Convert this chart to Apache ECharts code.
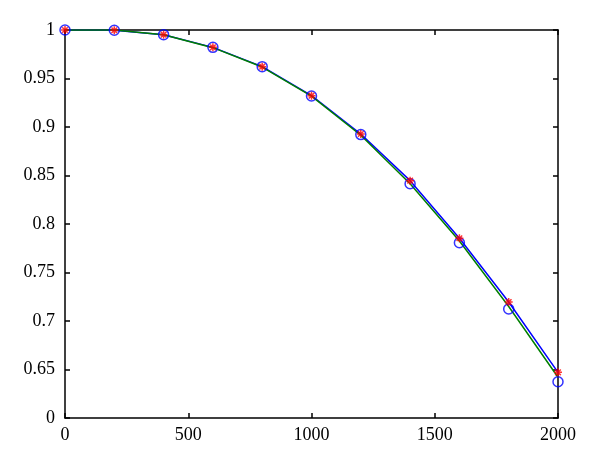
<!DOCTYPE html>
<html>
<head>
<meta charset="utf-8">
<script src="https://cdn.jsdelivr.net/npm/echarts@6/dist/echarts.min.js"></script>
<style>html,body{margin:0;padding:0;background:#fff;}#c{width:600px;height:463px;}</style>
</head>
<body>
<div id="c"></div>
<script>
var xValues = [0, 200, 400, 600, 800, 1000, 1200, 1400, 1600, 1800, 2000];
var circleValues = [1, 0.9997, 0.9952, 0.9821, 0.9622, 0.9320, 0.8922, 0.8415, 0.7807, 0.7124, 0.6374];
var starValues = [1, 0.9997, 0.9952, 0.9821, 0.9622, 0.9323, 0.8928, 0.8447, 0.7853, 0.7196, 0.6471];
var greenValues = [1, 1, 0.9950, 0.9818, 0.9618, 0.9318, 0.8915, 0.8415, 0.7825, 0.7150, 0.6420];
var yTicks = [0.6, 0.65, 0.7, 0.75, 0.8, 0.85, 0.9, 0.95, 1];

function pairs(ys) { return xValues.map(function (x, i) { return [x, ys[i]]; }); }

var FONT = 'Liberation Serif';
var starPath = 'path://M0,-5L0,5M-5,0L5,0M-3.5,-3.5L3.5,3.5M-3.5,3.5L3.5,-3.5';
var axisLine = { show: true, onZero: false, lineStyle: { color: '#000', width: 1.5 } };
var tick = { show: true, inside: true, length: 5, lineStyle: { color: '#000', width: 1.5 } };

var chart = echarts.init(document.getElementById('c'), null, { renderer: 'canvas' });
chart.setOption({
  animation: false,
  backgroundColor: '#fff',
  grid: { left: 65, right: 42, top: 30, bottom: 45 },
  xAxis: [
    { type: 'value', min: 0, max: 2000, interval: 500, position: 'bottom',
      axisLine: axisLine, axisTick: tick, splitLine: { show: false },
      axisLabel: { color: '#000', fontFamily: FONT, fontSize: 18, margin: 8,
        formatter: function (v) { return String(v); } } },
    { type: 'value', min: 0, max: 2000, interval: 500, position: 'top',
      axisLine: axisLine, axisTick: tick, splitLine: { show: false },
      axisLabel: { show: false } }
  ],
  yAxis: [
    { type: 'value', min: yTicks[0], max: yTicks[yTicks.length - 1], interval: 0.05, position: 'left',
      axisLine: axisLine, axisTick: tick, splitLine: { show: false },
      axisLabel: { color: '#000', fontFamily: FONT, fontSize: 18, margin: 10,
        formatter: function (v) {
          var r = parseFloat(v.toFixed(2));
          if (Math.abs(r - yTicks[0]) < 1e-9) return '0';
          return String(r);
        } } },
    { type: 'value', min: yTicks[0], max: yTicks[yTicks.length - 1], interval: 0.05, position: 'right',
      axisLine: axisLine, axisTick: tick, splitLine: { show: false },
      axisLabel: { show: false } }
  ],
  series: [
    { type: 'line', data: pairs(starValues), showSymbol: false, symbol: 'none', z: 2,
      lineStyle: { color: '#0000ff', width: 1.5 } },
    { type: 'line', data: pairs(greenValues), showSymbol: false, symbol: 'none', z: 3,
      lineStyle: { color: '#007f00', width: 1.5 } },
    { type: 'scatter', data: pairs(circleValues), symbol: 'circle', symbolSize: 10, z: 4,
      itemStyle: { color: 'rgba(0,0,0,0)', borderColor: '#0000ff', borderWidth: 1.5 } },
    { type: 'scatter', data: pairs(starValues), symbol: starPath, symbolSize: 8, z: 5,
      itemStyle: { color: 'none', borderColor: '#ff0000', borderWidth: 1.5 } }
  ]
});
</script>
</body>
</html>
